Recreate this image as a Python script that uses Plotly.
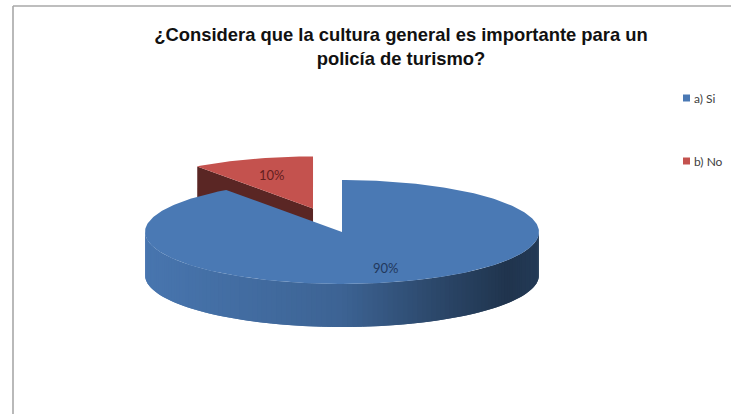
import numpy as np
import plotly.graph_objects as go

# ---- data ----
categories = ["a) Si", "b) No"]
values = [90, 10]

# ---- styling ----
slice_colors = [(74, 121, 180), (196, 82, 78)]
label_colors = ["#22385c", "#65201e"]
title_text = "¿Considera que la cultura general es importante para un<br>policía de turismo?"

W, H = 731, 414
CX, CY = 342, 232          # centre of the pie's top face (px)
RX, RY = 197, 52           # radii of the tilted top ellipse (px)
DEPTH = 43                 # thickness of the pie (px)
EXPLODE = [0.0, 0.476]     # pull-out of each slice, fraction of radius
LABEL_R = [0.72, 0.68]     # label distance from slice centre, fraction of radius
LEG_X, LEG_Y0, LEG_STEP = 683, 98, 63


def rgb(c, k=1.0):
    return "rgb({},{},{})".format(*[int(max(0, min(255, round(v * k)))) for v in c])


def side_shade(t):
    # lighting across the pie's rim, t = 0 at left edge, 1 at right edge
    ts = [0.0, 0.5, 0.75, 0.92, 1.0]
    ks = [0.97, 0.82, 0.58, 0.43, 0.48]
    return float(np.interp(t, ts, ks))


def pt(theta, cx, cy, z=0.0):
    a = np.radians(theta)
    return cx + RX * np.sin(a), cy - RY * np.cos(a) + z


def poly(xs, ys, color):
    return go.Scatter(
        x=list(xs), y=list(ys), mode="lines", fill="toself",
        fillcolor=color, line=dict(width=0),
        hoverinfo="skip", showlegend=False,
    )


total = float(sum(values))
bounds = np.concatenate([[0.0], np.cumsum(values) / total * 360.0])

slices = []
for i, v in enumerate(values):
    a0, a1 = bounds[i], bounds[i + 1]
    mid = (a0 + a1) / 2
    e = EXPLODE[i]
    cx = CX + e * RX * np.sin(np.radians(mid))
    cy = CY - e * RY * np.cos(np.radians(mid))
    slices.append(dict(i=i, a0=a0, a1=a1, mid=mid, cx=cx, cy=cy))

fig = go.Figure()

# back slices first, front slices last
for s in sorted(slices, key=lambda s: -np.cos(np.radians(s["mid"]))):
    i, a0, a1, cx, cy = s["i"], s["a0"], s["a1"], s["cx"], s["cy"]
    base = slice_colors[i]
    full = (a1 - a0) >= 359.999

    # radial cut faces turned towards the viewer
    if not full:
        for a, normal in ((a0, a0 - 90), (a1, a1 + 90)):
            if np.cos(np.radians(normal)) < -1e-6:
                xt, yt = pt(a, cx, cy)
                xb, yb = pt(a, cx, cy, DEPTH)
                fig.add_trace(poly([cx, xt, xb, cx, cx], [cy, yt, yb, cy + DEPTH, cy],
                                   rgb(base, 0.46)))

    # outer rim, only its front half is visible; strips overlap their
    # neighbour so no seams show
    lo, hi = max(a0, 90.0), min(a1, 270.0)
    if hi > lo:
        edges = np.linspace(lo, hi, int(np.ceil((hi - lo) / 1.5)) + 1)
        for t0, t1 in zip(edges[:-1], edges[1:]):
            t1x = min(t1 + 1.5, hi)
            arc = np.linspace(t0, t1x, 4)
            tx, ty = pt(arc, cx, cy)
            bx, by = pt(arc[::-1], cx, cy, DEPTH)
            tm = (np.sin(np.radians((t0 + t1) / 2)) + 1) / 2
            fig.add_trace(poly(np.r_[tx, bx, tx[0]], np.r_[ty, by, ty[0]],
                               rgb(base, side_shade(tm))))

    # top face
    arc = np.linspace(a0, a1, int(np.ceil(a1 - a0)) + 1)
    ax, ay = pt(arc, cx, cy)
    if full:
        fig.add_trace(poly(ax, ay, rgb(base)))
    else:
        fig.add_trace(poly(np.r_[cx, ax, cx], np.r_[cy, ay, cy], rgb(base)))

# percentage labels
for s in slices:
    lx, ly = pt(s["mid"], s["cx"], s["cy"])
    f = LABEL_R[s["i"]]
    fig.add_annotation(
        x=s["cx"] + (lx - s["cx"]) * f, y=s["cy"] + (ly - s["cy"]) * f,
        text=f"{values[s['i']] / total * 100:.0f}%", showarrow=False,
        font=dict(family="Lato, Carlito, sans-serif", size=13, color=label_colors[s["i"]]),
        xanchor="center", yanchor="middle",
    )

# legend
for i, cat in enumerate(categories):
    yc = LEG_Y0 + i * LEG_STEP
    fig.add_shape(type="rect", x0=LEG_X, x1=LEG_X + 7, y0=yc - 3.5, y1=yc + 3.5,
                  fillcolor=rgb(slice_colors[i]), line=dict(width=0))
    fig.add_annotation(x=LEG_X + 9, y=yc, text=cat, showarrow=False,
                       xanchor="left", yanchor="middle",
                       font=dict(family="Lato, Carlito, sans-serif", size=12, color="#404040"))

# chart area border (top and left edges)
for x0, y0, x1, y1 in ((13, 6, W, 6), (13, 6, 13, H)):
    fig.add_shape(type="line", x0=x0, y0=y0, x1=x1, y1=y1,
                  line=dict(color="#a8a8a8", width=1.6))

fig.update_layout(
    width=W, height=H,
    margin=dict(l=0, r=0, t=0, b=0),
    paper_bgcolor="white", plot_bgcolor="white",
    title=dict(text=title_text, x=401 / W, xanchor="center",
               y=1 - 41 / H, yref="container", yanchor="top",
               font=dict(family="Liberation Sans, Arial, sans-serif", size=18.4,
                         color="#111111", weight="bold")),
    xaxis=dict(range=[0, W], visible=False, fixedrange=True),
    yaxis=dict(range=[H, 0], visible=False, fixedrange=True),
    showlegend=False,
)

fig.write_html("out.html")
